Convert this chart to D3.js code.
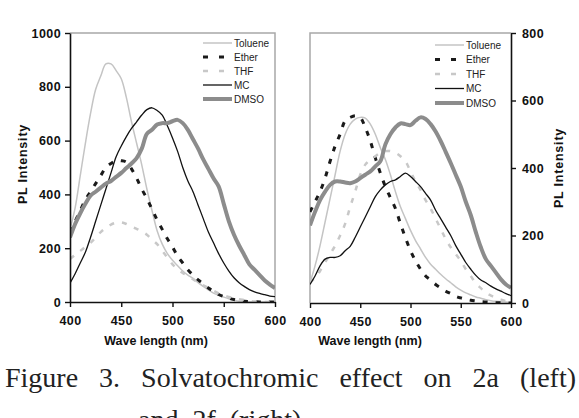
<!DOCTYPE html>
<html>
<head>
<meta charset="utf-8">
<script src="https://cdn.jsdelivr.net/npm/d3@7"></script>
<style>
  body { margin: 0; background: #fff; }
  svg { display: block; }
</style>
</head>
<body>
<svg id="chart" width="579" height="418"></svg>
<script>
// --- datos ---
const waves = [400, 405, 410, 415, 420, 425, 430, 435, 440, 445, 450, 455, 460, 465, 470, 475, 480, 485, 490, 495,
  500, 505, 510, 515, 520, 525, 530, 535, 540, 545, 550, 555, 560, 565, 570, 575, 580, 585, 590, 595, 600];
const solvents = ['Toluene', 'Ether', 'THF', 'MC', 'DMSO'];
const xTicks = [400, 450, 500, 550, 600];
const yTicksLeft = [0, 200, 400, 600, 800, 1000];
const yTicksRight = [0, 200, 400, 600, 800];
const captionLine1 = ['Figure', '3.', 'Solvatochromic', 'effect', 'on', '2a', '(left)'];
const captionLine2 = 'and 2f (right)';

// 2a (izquierda)
const toluene2a = [270, 350, 470, 590, 700, 790, 840, 885, 885, 860, 830, 760, 670, 590, 510, 420, 340, 265, 215, 180,
  155, 135, 115, 100, 88, 72, 58, 45, 33, 25, 18, 12, 7, 3, 1, 0, 0, 0, 0, 0, 0];
const ether2a = [260, 300, 340, 380, 410, 440, 470, 500, 515, 525, 525, 520, 495, 460, 420, 385, 345, 305, 270, 235,
  205, 170, 145, 120, 100, 82, 68, 52, 40, 28, 20, 14, 9, 5, 3, 2, 1, 0, 0, 0, 0];
const thf2a = [160, 175, 190, 205, 220, 240, 260, 275, 288, 295, 296, 290, 280, 272, 262, 250, 232, 215, 190, 165,
  140, 122, 108, 96, 85, 72, 62, 52, 42, 32, 25, 19, 14, 10, 7, 4, 2, 1, 0, 0, 0];
const mc2a = [70, 105, 145, 185, 240, 300, 360, 420, 480, 540, 580, 615, 645, 670, 695, 715, 722, 712, 695, 655,
  610, 560, 500, 450, 410, 360, 310, 260, 220, 180, 145, 115, 90, 72, 58, 46, 38, 32, 27, 22, 20];
const dmso2a = [240, 290, 330, 365, 395, 410, 425, 440, 450, 465, 480, 498, 515, 535, 570, 625, 640, 660, 665, 665,
  672, 677, 665, 640, 605, 570, 530, 495, 460, 430, 365, 300, 250, 210, 175, 140, 120, 100, 80, 65, 52];

// 2f (derecha)
const toluene2f = [60, 110, 170, 240, 310, 380, 450, 500, 530, 545, 550, 548, 530, 500, 460, 425, 380, 330, 285, 250,
  215, 185, 160, 135, 115, 100, 85, 72, 60, 48, 38, 30, 24, 18, 14, 10, 7, 5, 4, 3, 2];
const ether2f = [270, 300, 330, 370, 420, 465, 500, 540, 550, 555, 550, 520, 480, 430, 385, 345, 312, 280, 235, 193,
  155, 125, 100, 80, 68, 55, 45, 35, 28, 20, 15, 11, 8, 6, 4, 3, 2, 1, 1, 0, 0];
const thf2f = [60, 75, 95, 120, 145, 170, 200, 235, 285, 330, 380, 410, 425, 435, 445, 450, 450, 445, 435, 420,
  390, 360, 335, 305, 280, 250, 220, 190, 165, 145, 125, 100, 80, 58, 44, 30, 22, 15, 10, 6, 4];
const mc2f = [55, 80, 110, 130, 135, 135, 140, 155, 168, 195, 225, 255, 285, 315, 335, 350, 360, 365, 375, 385,
  375, 360, 345, 325, 305, 275, 250, 225, 200, 170, 145, 120, 100, 82, 68, 60, 50, 42, 35, 28, 22];
const dmso2f = [230, 270, 305, 330, 350, 360, 360, 357, 355, 360, 370, 380, 390, 405, 420, 470, 500, 520, 532, 530,
  527, 540, 550, 545, 530, 508, 480, 448, 415, 380, 345, 300, 260, 210, 165, 130, 110, 90, 70, 55, 45];

// estilos por disolvente
const lineStyle = {
  Toluene: { stroke: '#c4c4c4', width: 1.5, dash: null },
  Ether:   { stroke: '#1a1a1a', width: 3, dash: '5,8' },
  THF:     { stroke: '#c8c8c8', width: 2.5, dash: '5,8' },
  MC:      { stroke: '#111', width: 1.3, dash: null },
  DMSO:    { stroke: '#8c8c8c', width: 4, dash: null }
};

const svg = d3.select('#chart');
const FONT = '"Liberation Sans", Arial, sans-serif';

/**
 * Dibuja un panel con sus ejes, curvas y leyenda.
 */
function drawPanel(cfg) {
  const x = d3.scaleLinear().domain([400, 600]).range([cfg.left, cfg.right]);
  const y = d3.scaleLinear().domain([0, cfg.yMax]).range([cfg.bottom, cfg.top]);
  const g = svg.append('g');

  const clipId = 'clip-' + cfg.id;
  svg.append('clipPath').attr('id', clipId)
    .append('rect')
    .attr('x', cfg.left).attr('y', cfg.top - 3)
    .attr('width', cfg.right - cfg.left).attr('height', cfg.bottom - cfg.top + 3);

  // borde gris (lados sin eje)
  const border = g.append('path')
    .attr('fill', 'none')
    .attr('stroke', '#a8a8a8')
    .attr('stroke-width', 1.5);
  if (cfg.axisSide === 'left') {
    border.attr('d', `M${cfg.left},${cfg.top}H${cfg.right}V${cfg.bottom}`);
  } else {
    border.attr('d', `M${cfg.right},${cfg.top}H${cfg.left}V${cfg.bottom}`);
  }

  // curvas
  const line = d3.line()
    .x((d, i) => x(waves[i]))
    .y(d => y(d))
    .curve(d3.curveCatmullRom);

  const curves = g.append('g').attr('clip-path', `url(#${clipId})`);
  solvents.forEach(name => {
    const st = lineStyle[name];
    curves.append('path')
      .datum(cfg.series[name])
      .attr('fill', 'none')
      .attr('stroke', st.stroke)
      .attr('stroke-width', st.width)
      .attr('stroke-dasharray', st.dash)
      .attr('stroke-linejoin', 'round')
      .attr('d', line);
  });

  // eje x
  const xAxis = g.append('g')
    .attr('transform', `translate(0,${cfg.bottom})`)
    .call(d3.axisBottom(x).tickValues(xTicks).tickFormat(d3.format('d'))
      .tickSize(5).tickSizeOuter(0).tickPadding(9));

  // eje y
  const yAxisGen = cfg.axisSide === 'left'
    ? d3.axisLeft(y).tickSize(5).tickPadding(4)
    : d3.axisRight(y).tickSize(5).tickPadding(6);
  yAxisGen.tickValues(cfg.yTicks).tickFormat(d3.format('d')).tickSizeOuter(0);
  const yAxis = g.append('g')
    .attr('transform', `translate(${cfg.axisSide === 'left' ? cfg.left : cfg.right},0)`)
    .call(yAxisGen);

  [xAxis, yAxis].forEach(a => {
    a.select('.domain').attr('stroke', '#111').attr('stroke-width', 1.6);
    a.selectAll('.tick line').attr('stroke', '#111').attr('stroke-width', 1.4);
    a.selectAll('.tick text')
      .attr('fill', '#111')
      .style('font-family', FONT)
      .style('font-weight', 'bold')
      .style('font-size', '12.5px')
      .style('letter-spacing', '0.4px');
  });

  // títulos de ejes
  g.append('text')
    .attr('x', cfg.xLabelX).attr('y', 345)
    .attr('text-anchor', 'middle')
    .style('font-family', FONT).style('font-weight', 'bold').style('font-size', '12.5px')
    .attr('fill', '#111')
    .text('Wave length (nm)');

  g.append('text')
    .attr('transform', `translate(${cfg.yLabelX},${cfg.yLabelY}) rotate(-90)`)
    .attr('text-anchor', 'middle')
    .style('font-family', FONT).style('font-weight', 'bold').style('font-size', '12.5px')
    .style('letter-spacing', '0.8px')
    .attr('fill', '#111')
    .text('PL Intensity');

  // leyenda
  const leg = g.append('g');
  solvents.forEach((name, i) => {
    const st = lineStyle[name];
    const ly = cfg.legendY + i * cfg.legendStep;
    leg.append('line')
      .attr('x1', cfg.legendX).attr('x2', cfg.legendX + 29)
      .attr('y1', ly).attr('y2', ly)
      .attr('stroke', st.stroke)
      .attr('stroke-width', st.width)
      .attr('stroke-dasharray', st.dash ? '5,11' : null);
    leg.append('text')
      .attr('x', cfg.legendX + 31).attr('y', ly + 3.5)
      .style('font-family', FONT).style('font-size', '10px')
      .attr('fill', '#222')
      .text(name);
  });
}

drawPanel({
  id: 'a', left: 70, right: 275, top: 33, bottom: 302, yMax: 1000,
  yTicks: yTicksLeft, axisSide: 'left', xLabelX: 156, yLabelX: 27, yLabelY: 164,
  legendX: 203, legendY: 43, legendStep: 14,
  series: { Toluene: toluene2a, Ether: ether2a, THF: thf2a, MC: mc2a, DMSO: dmso2a }
});

drawPanel({
  id: 'f', left: 310, right: 511, top: 33, bottom: 303, yMax: 800,
  yTicks: yTicksRight, axisSide: 'right', xLabelX: 370, yLabelX: 563, yLabelY: 168,
  legendX: 435, legendY: 45, legendStep: 14.5,
  series: { Toluene: toluene2f, Ether: ether2f, THF: thf2f, MC: mc2f, DMSO: dmso2f }
});

// pie de figura: primera línea justificada palabra por palabra
const CAP_FONT = '"Liberation Serif", "DejaVu Serif", serif';
const capStart = 5, capEnd = 576;
const capWords = svg.append('g').selectAll('text')
  .data(captionLine1)
  .join('text')
  .attr('y', 387)
  .style('font-family', CAP_FONT).style('font-size', '28px')
  .attr('fill', '#222')
  .text(d => d);
const widths = capWords.nodes().map(n => n.getComputedTextLength());
const gap = (capEnd - capStart - d3.sum(widths)) / (captionLine1.length - 1);
let cx = capStart;
capWords.each(function(d, i) {
  d3.select(this).attr('x', cx);
  cx += widths[i] + gap;
});

svg.append('text')
  .attr('x', 138).attr('y', 429)
  .attr('word-spacing', '7px')
  .style('font-family', CAP_FONT).style('font-size', '28px')
  .attr('fill', '#222')
  .text(captionLine2);
</script>
</body>
</html>
